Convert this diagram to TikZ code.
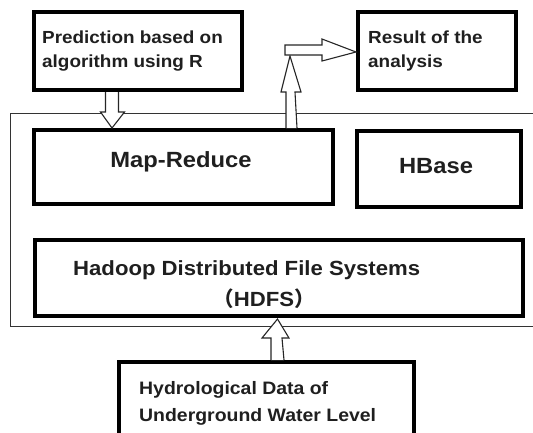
\documentclass[tikz,border=0pt]{standalone}
\usepackage{fontspec}
\newfontfamily\diafont{Liberation Sans}[FakeStretch=1.08]
\newfontfamily\cjk{Noto Sans CJK SC}
\usetikzlibrary{calc}
\begin{document}
\begin{tikzpicture}[x=1pt,y=-1pt,
  box/.style={draw=black, line width=4pt, inner sep=0pt, fill=none},
  outerbox/.style={draw=black!80, line width=1.4pt},
  txt/.style={inner sep=0pt, text=black!88, align=left},
  barrow/.style={draw=black!85, line width=1.1pt, fill=white, line join=miter}]
\useasboundingbox (0,0) rectangle (533,432);
\clip (0,0) rectangle (533,432);
% outer container
\node[outerbox, minimum width=540pt, minimum height=213pt, anchor=north west] (outer) at (10,113) {};
% boxes
\node[box, minimum width=208pt, minimum height=78pt, anchor=north west] (pred) at (32,10) {};
\node[box, minimum width=158pt, minimum height=78pt, anchor=north west] (res) at (356,10) {};
\node[box, minimum width=299pt, minimum height=74pt, anchor=north west] (mr) at (32,128) {};
\node[box, minimum width=164pt, minimum height=76pt, anchor=north west] (hb) at (355,129) {};
\node[box, minimum width=488pt, minimum height=76pt, anchor=north west] (hdfs) at (33,238) {};
\node[box, minimum width=295pt, minimum height=90pt, anchor=north west] (hyd) at (117,360) {};
% texts (base anchor = baseline of last line)
\node[txt, anchor=base west, font=\diafont\bfseries\fontsize{17.5}{24}\selectfont] (predt) at (42,67) {Prediction based on\\algorithm using R};
\node[txt, anchor=base west, font=\diafont\bfseries\fontsize{17.5}{24}\selectfont] (rest) at (368,67) {Result of the\\analysis};
\node[txt, anchor=base, font=\diafont\bfseries\fontsize{22}{26}\selectfont] (mrt) at (181,167) {Map-Reduce};
\node[txt, anchor=base, font=\diafont\bfseries\fontsize{22}{26}\selectfont] (hbt) at (436,173.5) {HBase};
\node[txt, anchor=base west, font=\diafont\bfseries\fontsize{20.5}{26}\selectfont] (hdfst) at (73,275) {Hadoop Distributed File Systems};
\node[txt, anchor=base, font=\diafont\bfseries\fontsize{20.5}{26}\selectfont] (hdfst2) at (264,306) {{\cjk （}HDFS{\cjk ）}};
\node[txt, anchor=base west, font=\diafont\bfseries\fontsize{18}{27}\selectfont] (hydt) at (139,421) {Hydrological Data of\\Underground Water Level};
% block arrows
% prediction -> map-reduce (down)
\draw[barrow] ($(pred.south)+(-32.5,0)$) -- ++(0,20) -- ++(-5,0) -- ($(mr.north)+(-71.5,0)$) -- ($(pred.south)+(-13.5,20)$) -- ++(-6,0) -- ++(0,-20);
% map-reduce -> up
\draw[barrow] ($(mr.north)+(102.5,0)$) -- ++(0,-36) -- ++(-5,0) -- (290,56) coordinate (turn) -- (301,92) -- (295,92) -- ($(mr.north)+(113.5,0)$);
% right arrow -> result
\draw[barrow] (285,45) -- (322,45) -- (322,39) -- ($(res.west)+(0,1)$) -- (322,61) -- (322,55) -- (285,55) -- cycle;
% hydrological -> hdfs (up)
\draw[barrow] ($(hyd.north)+(4.5,0)$) -- ++(0,-22) -- ++(-9,0) -- ($(hdfs.south)+(-1.5,1)$) -- (289,338) -- (282,338) -- ($(hyd.north)+(17.5,0)$);
\end{tikzpicture}
\end{document}
